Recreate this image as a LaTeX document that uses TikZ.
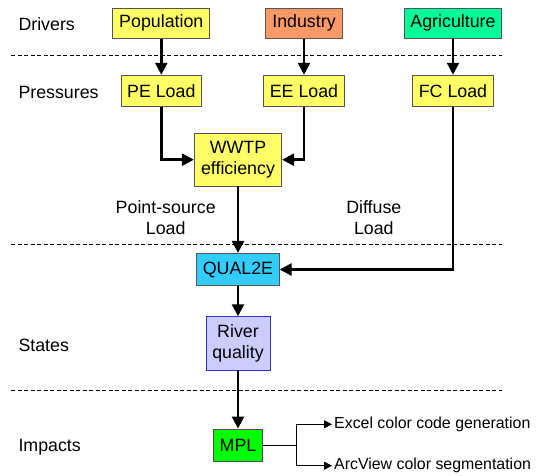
\documentclass[tikz,border=0pt]{standalone}
\usepackage{fontspec}
\setmainfont{Liberation Sans}
\usetikzlibrary{arrows.meta}
\definecolor{cyel}{HTML}{FFFF66}
\definecolor{corg}{HTML}{FF9966}
\definecolor{cagr}{HTML}{00FF99}
\definecolor{cq}{HTML}{33CCFF}
\definecolor{criv}{HTML}{CCCCFF}
\definecolor{crivb}{HTML}{3333CC}
\definecolor{cmpl}{HTML}{00FF00}
\definecolor{cbord}{HTML}{555555}
\tikzset{
  box/.style={draw=cbord, line width=0.8pt, inner sep=0pt, align=center,
    font=\fontsize{17.8}{20.5}\selectfont},
  lbl/.style={inner sep=0pt, font=\fontsize{17.8}{21.5}\selectfont, align=center},
  small/.style={inner sep=2pt, anchor=west, font=\fontsize{15.9}{18}\selectfont},
  arr/.style={line width=2.5pt, -{Triangle[length=12pt,width=12pt]}},
  thinarr/.style={line width=1pt, -{Triangle[length=8pt,width=8pt]}},
  sep/.style={line width=0.8pt, dash pattern=on 4pt off 2.5pt}
}
\begin{document}
\begin{tikzpicture}[x=1pt,y=-1pt]
\useasboundingbox (0,0) rectangle (541,475);
% separators
\draw[sep] (11,55) -- (502,55);
\draw[sep] (11,244) -- (502,244);
\draw[sep] (11,390) -- (502,390);
% row labels
\node[lbl, anchor=west] (ldr) at (18.3,24) {Drivers};
\node[lbl, anchor=west] (lpr) at (18.3,92) {Pressures};
\node[lbl, anchor=west] (lst) at (18.3,345) {States};
\node[lbl, anchor=west] (lim) at (18.3,447.5) {Impacts};
% boxes
\node[box, fill=cyel, minimum width=97pt, minimum height=30pt] (pop) at (161.3,23.3) {Population};
\node[box, fill=corg, minimum width=76.6pt, minimum height=30pt] (ind) at (304,23.3) {Industry};
\node[box, fill=cagr, minimum width=97.7pt, minimum height=30pt] (agr) at (453,23.3) {Agriculture};
\node[box, fill=cyel, minimum width=80.8pt, minimum height=31.7pt] (pe) at (161.3,91) {PE Load};
\node[box, fill=cyel, minimum width=80.5pt, minimum height=31.7pt] (ee) at (304,91) {EE Load};
\node[box, fill=cyel, minimum width=81pt, minimum height=31.7pt] (fc) at (453,91) {FC Load};
\node[box, fill=cyel, minimum width=87.4pt, minimum height=52.7pt] (wwtp) at (238,159.7) {WWTP\\efficiency};
\node[box, fill=cq, minimum width=82.5pt, minimum height=32.4pt] (qual) at (238,269.5) {QUAL2E};
\node[box, fill=criv, draw=crivb, minimum width=64pt, minimum height=53.3pt] (riv) at (238,343.3) {River\\quality};
\node[box, fill=cmpl, draw=black!70, minimum width=48.7pt, minimum height=32.7pt] (mpl) at (238,445.3) {MPL};
% load labels
\node[lbl] (ps) at (165.7,217.5) {Point-source\\Load};
\node[lbl] (df) at (373.8,217.5) {Diffuse\\Load};
% impacts outputs
\node[small] (excel) at (332,424.3) {Excel color code generation};
\node[small] (arcv) at (332,465.7) {ArcView color segmentation};
% connectors
\draw[arr] (pop) -- (pe);
\draw[arr] (ind) -- (ee);
\draw[arr] (agr) -- (fc);
\draw[arr] (pe.south) |- (wwtp.west);
\draw[arr] (ee.south) |- (wwtp.east);
\draw[arr] (wwtp) -- (qual);
\draw[arr] (fc.south) |- (qual.east);
\draw[arr] (qual) -- (riv);
\draw[arr] (riv) -- (mpl);
\draw[line width=1pt] (mpl.east) -- ++(34,0) coordinate (br);
\draw[thinarr] (br) |- (excel.west);
\draw[thinarr] (br) |- (arcv.west);
\end{tikzpicture}
\end{document}
